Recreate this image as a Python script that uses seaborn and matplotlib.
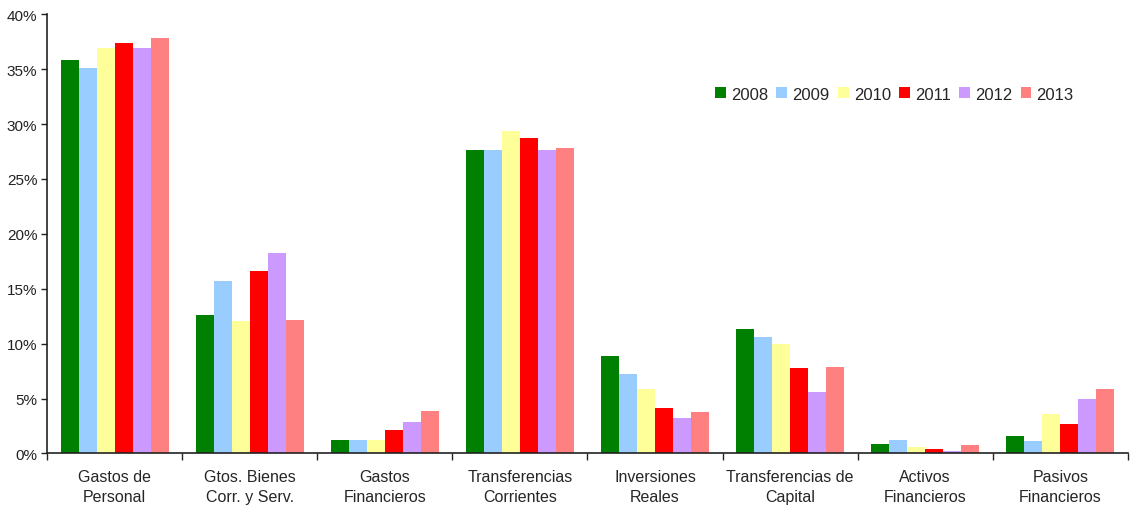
import numpy as np
import pandas as pd
import matplotlib
matplotlib.use("Agg")
import matplotlib.pyplot as plt
import seaborn as sns
from matplotlib.ticker import FixedLocator, PercentFormatter

# ─── Data ────────────────────────────────────────────────────────────────────
categories = ["Gastos de\nPersonal", "Gtos. Bienes\nCorr. y Serv.", "Gastos\nFinancieros",
              "Transferencias\nCorrientes", "Inversiones\nReales", "Transferencias de\nCapital",
              "Activos\nFinancieros", "Pasivos\nFinancieros"]
years = ["2008", "2009", "2010", "2011", "2012", "2013"]

v2008 = [35.8, 12.6, 1.2, 27.6, 8.9, 11.3, 0.9, 1.6]
v2009 = [35.1, 15.7, 1.2, 27.6, 7.2, 10.6, 1.2, 1.1]
v2010 = [36.9, 12.1, 1.2, 29.4, 5.9, 10.0, 0.6, 3.6]
v2011 = [37.4, 16.6, 2.1, 28.7, 4.1, 7.8, 0.4, 2.7]
v2012 = [36.9, 18.3, 2.9, 27.6, 3.2, 5.6, 0.2, 5.0]
v2013 = [37.8, 12.2, 3.9, 27.8, 3.8, 7.9, 0.8, 5.9]

colors = ["#008000", "#99CCFF", "#FFFF99", "#FF0000", "#CC99FF", "#FF8080"]

df = pd.DataFrame({"categoria": categories * 6,
                   "anio": np.repeat(years, len(categories)),
                   "valor": v2008 + v2009 + v2010 + v2011 + v2012 + v2013})

# ─── Plot ────────────────────────────────────────────────────────────────────
sns.set_style("white")
plt.rcParams["font.family"] = ["Liberation Sans", "DejaVu Sans"]

fig = plt.figure(figsize=(11.3, 5.06), dpi=100)
ax = fig.add_axes([0.0416, 0.1018, 0.9565, 0.868])

sns.barplot(data=df, x="categoria", y="valor", hue="anio", palette=colors,
            width=0.8, saturation=1, linewidth=0, ax=ax)

ax.set_ylim(0, 40)
ax.set_xlim(-0.5, len(categories) - 0.5)
ax.set_yticks(np.arange(0, 41, 5))
ax.yaxis.set_major_formatter(PercentFormatter(decimals=0))
ax.tick_params(axis="y", labelsize=11, length=4, width=1, direction="out",
               left=True, colors="#222222", pad=3)

# group boundaries as major ticks, labels on minor ticks at centres
ax.xaxis.set_major_locator(FixedLocator(np.arange(-0.5, len(categories), 1.0)))
ax.xaxis.set_minor_locator(FixedLocator(np.arange(len(categories))))
ax.set_xticklabels([], minor=False)
ax.set_xticklabels(categories, minor=True)
ax.tick_params(axis="x", which="major", length=5, width=1, bottom=True, direction="out")
ax.tick_params(axis="x", which="minor", length=0, labelsize=11.5, pad=11)
for lbl in ax.get_xticklabels(minor=True):
    lbl.set_linespacing(1.45)

ax.set_xlabel("")
ax.set_ylabel("")
for side in ["top", "right"]:
    ax.spines[side].set_visible(False)
for side in ["left", "bottom"]:
    ax.spines[side].set_color("#222222")
    ax.spines[side].set_linewidth(1.2)

ax.legend(loc="center", bbox_to_anchor=(0.784, 0.818), ncol=6, frameon=False,
          fontsize=12, handlelength=0.65, handleheight=0.65, handletextpad=0.3,
          columnspacing=0.5)

plt.savefig("out.png", dpi=100)
plt.close()
